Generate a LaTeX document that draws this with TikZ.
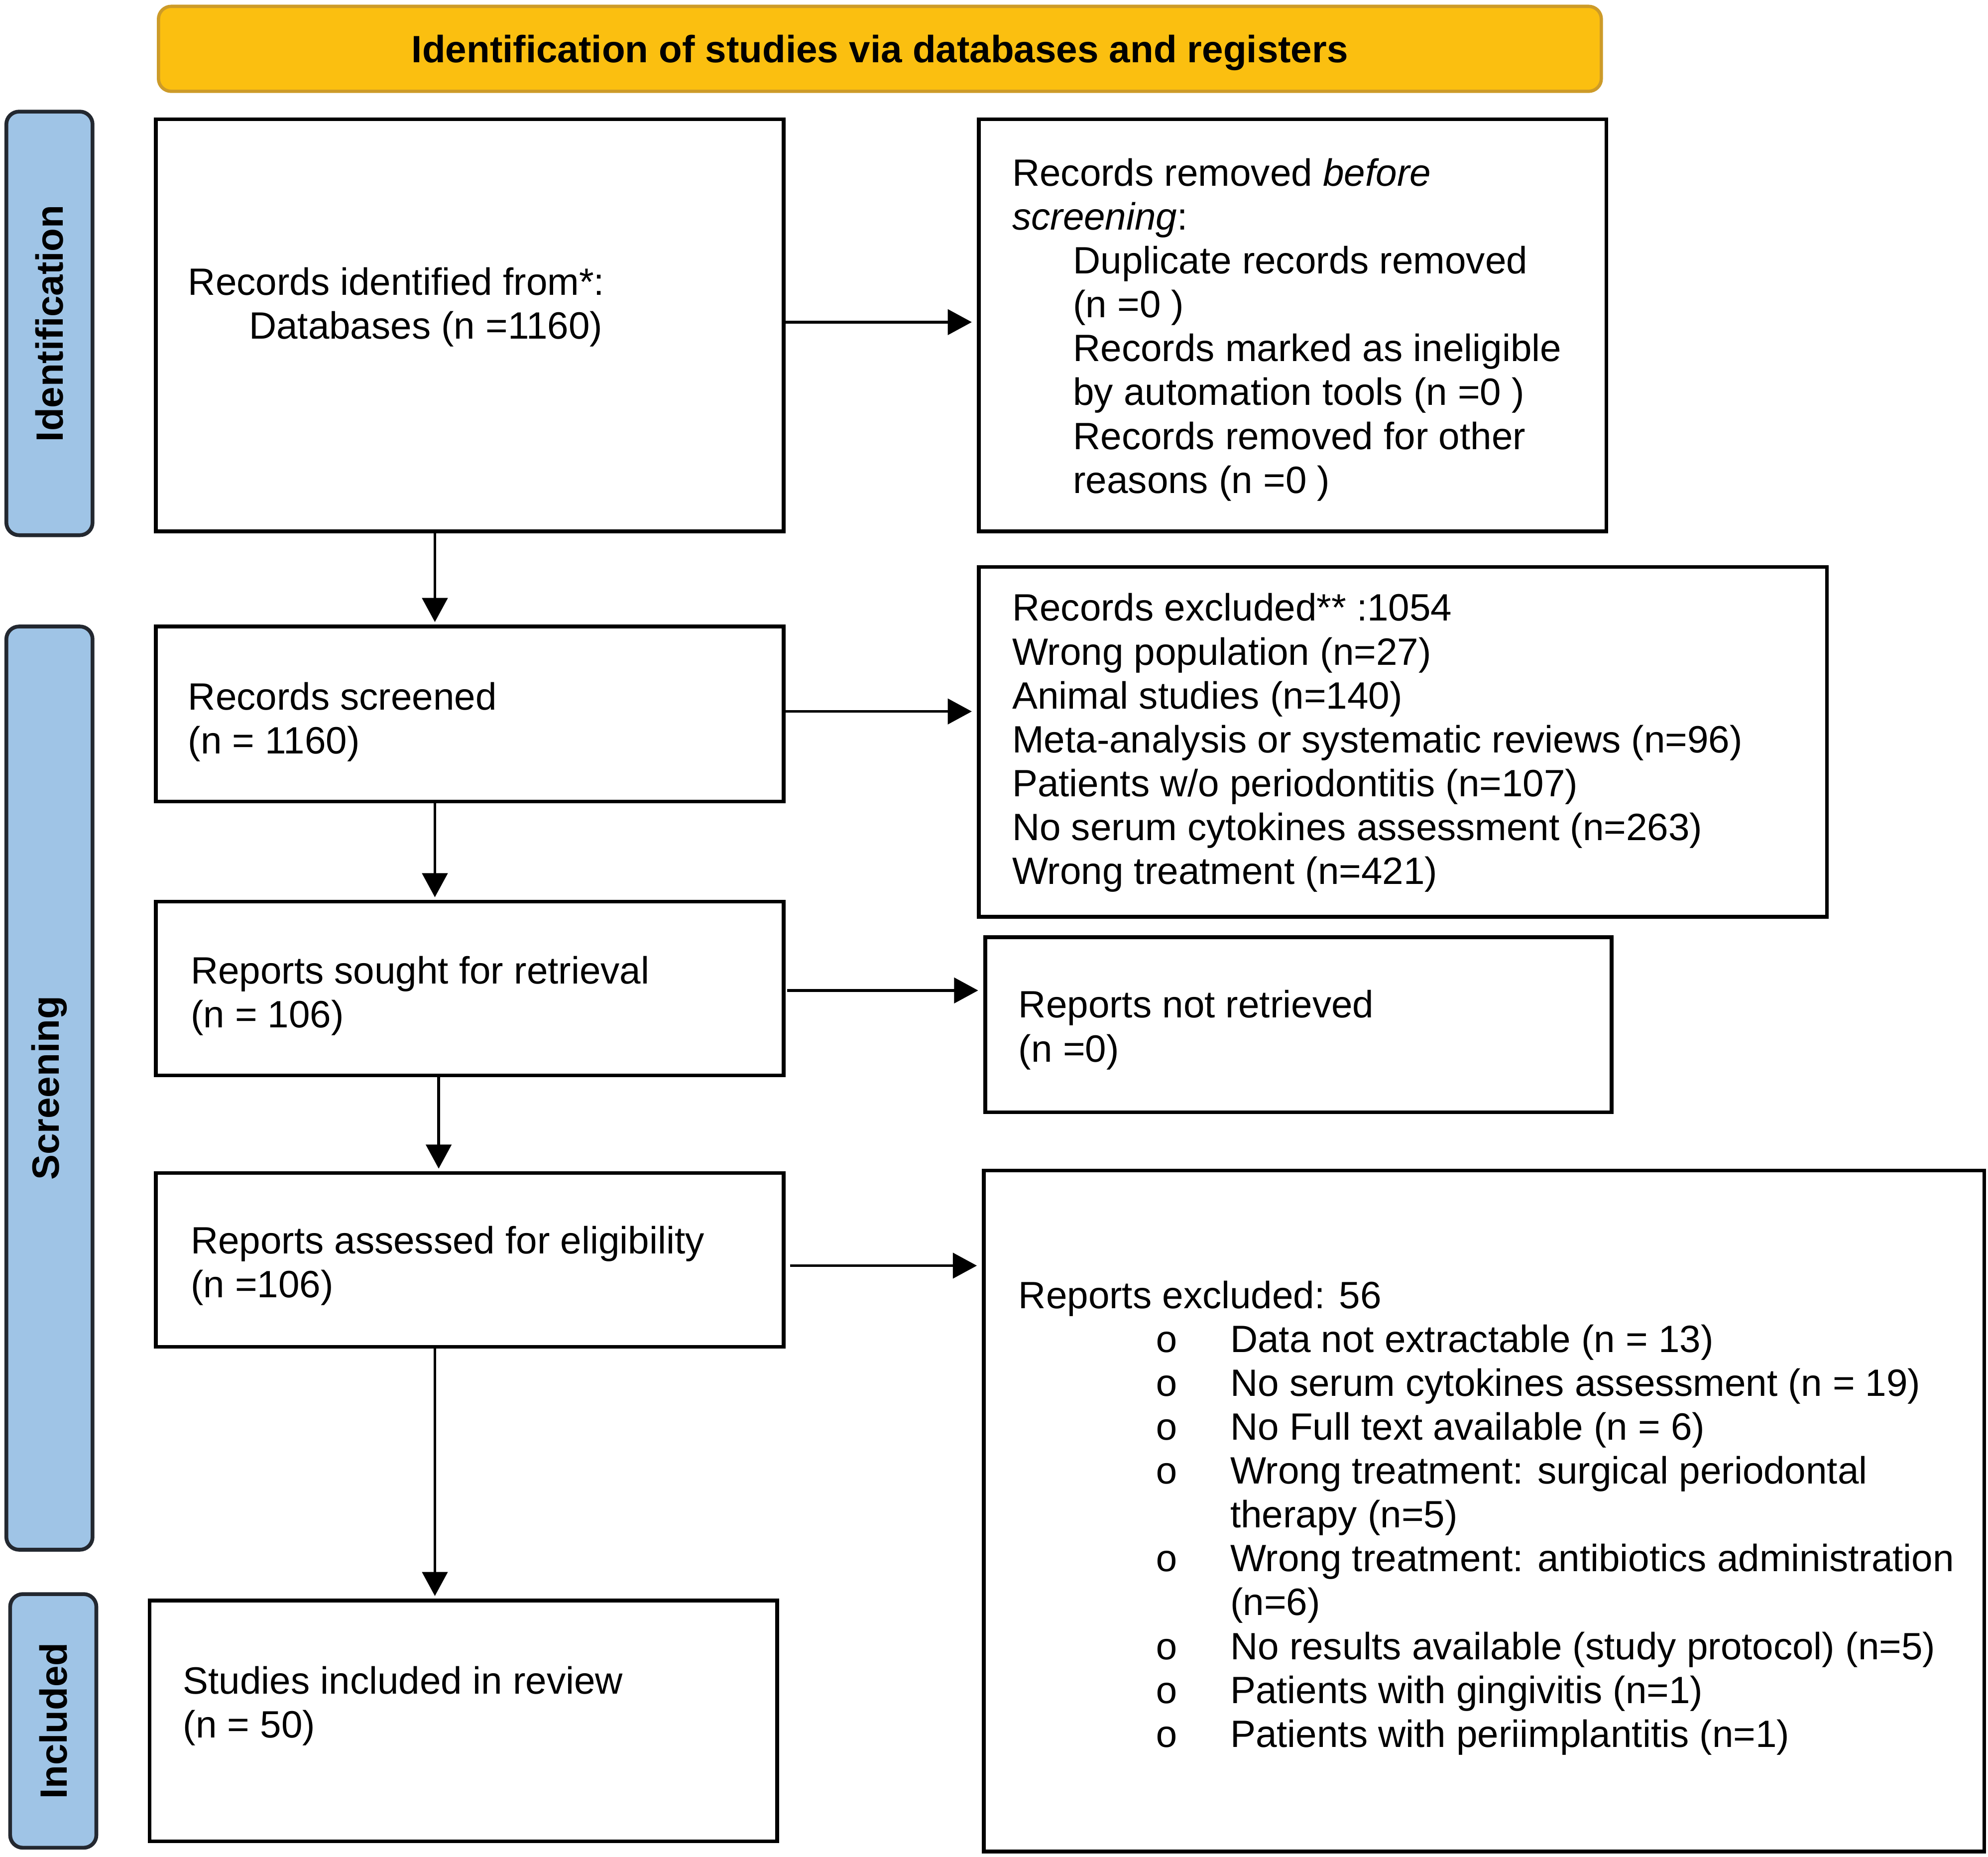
\documentclass[tikz,border=0pt]{standalone}
\usepackage{fontspec}
\setmainfont{Liberation Sans}
\setmonofont{Liberation Mono}
\usetikzlibrary{arrows.meta,calc}
\definecolor{bannerfill}{RGB}{251,191,16}
\definecolor{bannerdraw}{RGB}{205,155,40}
\definecolor{barfill}{RGB}{159,196,230}
\definecolor{bardraw}{RGB}{35,40,48}
\newcommand{\bul}{\hspace*{54pt}\makebox[29.5pt][l]{\ttfamily o}}
\begin{document}
\begin{tikzpicture}[x=0.5pt,y=-0.5pt,
  box/.style={draw=black,line width=1.5pt,fill=white,inner sep=0pt},
  banner/.style={draw=bannerdraw,line width=1.3pt,fill=bannerfill,rounded corners=5pt,inner sep=0pt,
    text depth=0pt,font=\fontsize{15}{17.3}\bfseries\selectfont},
  bar/.style={draw=bardraw,line width=1.5pt,fill=barfill,rounded corners=5pt,inner sep=0pt},
  barlabel/.style={rotate=90,inner sep=0pt,font=\fontsize{15}{17.3}\bfseries\selectfont},
  txt/.style={anchor=north west,inner sep=0pt,align=left,font=\fontsize{15}{17.3}\selectfont},
  arr/.style={line width=1.1pt,-{Triangle[length=9.5pt,width=10pt]},shorten >=2pt}]
\useasboundingbox (0,0) rectangle (1568,1464);
% banner and side bars
\node[banner,minimum width=569pt,minimum height=33.5pt] (ban) at (694,38.5) {Identification of studies via databases and registers};
\node[bar,minimum width=34pt,minimum height=167pt] (bar1) at (39,255) {};
\node[bar,minimum width=34pt,minimum height=364pt] (bar2) at (39,858) {};
\node[bar,minimum width=34pt,minimum height=100pt] (bar3) at (42,1357) {};
\node[barlabel] (lab1) at (bar1.center) {Identification};
\node[barlabel] (lab2) at (bar2.center) {Screening};
\node[barlabel] (lab3) at (bar3.center) {Included};
% boxes
\node[box,minimum width=247.5pt,minimum height=162.5pt] (b1) at (370.5,256.5) {};
\node[box,minimum width=247.5pt,minimum height=162.5pt] (b2) at (1019.5,256.5) {};
\node[box,minimum width=247.5pt,minimum height=69pt] (b3) at (370.5,563) {};
\node[box,minimum width=334.5pt,minimum height=138pt] (b4) at (1106.5,585) {};
\node[box,minimum width=247.5pt,minimum height=68.5pt] (b5) at (370.5,779.5) {};
\node[box,minimum width=247pt,minimum height=69pt] (b6) at (1024,808) {};
\node[box,minimum width=247.5pt,minimum height=68.5pt] (b7) at (370.5,993.5) {};
\node[box,minimum width=394.5pt,minimum height=268.5pt] (b8) at (1170.5,1191.5) {};
\node[box,minimum width=247.5pt,minimum height=95pt] (b9) at (365.5,1357) {};
% texts
\node[txt] (t1) at (148,208) {\strut Records identified from*:\\\hspace*{24pt}Databases (n =1160)};
\node[txt] (t2) at (798,122) {\strut Records removed \textit{before}\\\textit{screening}:\\
  \hspace*{24pt}Duplicate records removed\\\hspace*{24pt}(n =0 )\\
  \hspace*{24pt}Records marked as ineligible\\\hspace*{24pt}by automation tools (n =0 )\\
  \hspace*{24pt}Records removed for other\\\hspace*{24pt}reasons (n =0 )};
\node[txt] (t3) at (148,535) {\strut Records screened\\(n = 1160)};
\node[txt] (t4) at (798,465) {\strut Records excluded** :1054\\Wrong population (n=27)\\Animal studies (n=140)\\
  Meta-analysis or systematic reviews (n=96)\\Patients w/o periodontitis (n=107)\\
  No serum cytokines assessment (n=263)\\Wrong treatment (n=421)};
\node[txt] (t5) at (150,751) {\strut Reports sought for retrieval\\(n = 106)};
\node[txt] (t6) at (803,778) {\strut Reports not retrieved\\(n =0)};
\node[txt] (t7) at (150,964) {\strut Reports assessed for eligibility\\(n =106)};
\node[txt] (t8) at (803,1007) {\strut Reports excluded: 56\\
  \bul Data not extractable (n = 13)\\
  \bul No serum cytokines assessment (n = 19)\\
  \bul No Full text available (n = 6)\\
  \bul Wrong treatment: surgical periodontal\\
  \hspace*{83.5pt}therapy (n=5)\\
  \bul Wrong treatment: antibiotics administration\\
  \hspace*{83.5pt}(n=6)\\
  \bul No results available (study protocol) (n=5)\\
  \bul Patients with gingivitis (n=1)\\
  \bul Patients with periimplantitis (n=1)};
\node[txt] (t9) at (144,1311) {\strut Studies included in review\\(n = 50)};
% connectors
\coordinate (ax) at (343,0);
\coordinate (h1) at (0,254);
\coordinate (h3) at (0,561);
\coordinate (h5) at (0,781);
\coordinate (h7) at (0,998);
\draw[arr] (b1.east |- h1) -- (b2.west |- h1);
\draw[arr] (b3.east |- h3) -- (b4.west |- h3);
\draw[arr] ($(b5.east |- h5)+(1.5,0)$) -- (b6.west |- h5);
\draw[arr] ($(b7.east |- h7)+(3.5,0)$) -- (b8.west |- h7);
\draw[arr,shorten >=1pt] (b1.south -| ax) -- (b3.north -| ax);
\draw[arr,shorten >=1pt] (b3.south -| ax) -- (b5.north -| ax);
\draw[arr,shorten >=1pt] ($(b5.south -| ax)+(3,0)$) -- ($(b7.north -| ax)+(3,0)$);
\draw[arr,shorten >=1pt] (b7.south -| ax) -- (b9.north -| ax);
\end{tikzpicture}
\end{document}
